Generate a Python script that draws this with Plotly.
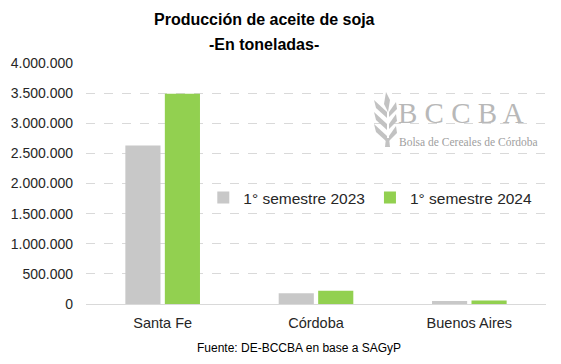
import plotly.graph_objects as go

categories = ["Santa Fe", "Córdoba", "Buenos Aires"]
series_names = ["1° semestre 2023", "1° semestre 2024"]
values_2023 = [2630000, 178000, 48000]
values_2024 = [3490000, 221000, 60000]
colors = ["#c8c8c8", "#92d050"]
y_ticks = [0, 500000, 1000000, 1500000, 2000000, 2500000, 3000000, 3500000, 4000000]

L, R, T, B = 86, 15, 63, 60
W, H = 561, 364
PW, PH = W - L - R, H - T - B


def px(x):
    return (x - L) / PW


def py(y):
    return (H - B - y) / PH


fig = go.Figure()
for name, vals, col in zip(series_names, [values_2023, values_2024], colors):
    fig.add_trace(go.Bar(x=categories, y=vals, name=name, marker_color=col,
                         marker_line_width=0))

fig.update_layout(
    width=W, height=H,
    margin=dict(l=L, r=R, t=T, b=B),
    paper_bgcolor="white", plot_bgcolor="white",
    separators=",.",
    barmode="group", bargap=0.485, bargroupgap=0.11,
    font=dict(family="Liberation Sans, Arial, sans-serif", color="#262626"),
    legend=dict(orientation="h", x=0.255, y=0.44, xanchor="left", yanchor="middle",
                bgcolor="rgba(0,0,0,0)", font=dict(size=15.5, color="#262626"),
                itemwidth=30, traceorder="normal"),
    showlegend=True,
)
fig.update_yaxes(range=[0, 4000000], tickvals=y_ticks, tickformat=",d",
                 showgrid=True, gridcolor="#d9d9d9", griddash="dash", gridwidth=1,
                 zeroline=False, showline=False, ticks="", ticklen=0,
                 ticklabelstandoff=12,
                 tickfont=dict(size=14, color="#262626"))
fig.update_xaxes(showline=True, linecolor="#d9d9d9", linewidth=1, ticks="",
                 ticklabelstandoff=6,
                 tickfont=dict(size=14.5, color="#262626"), showgrid=False)

# title
fig.add_annotation(text="<b>Producción de aceite de soja</b>", xref="paper", yref="paper",
                   x=px(264), y=py(20), xanchor="center", yanchor="middle", showarrow=False,
                   font=dict(size=16, color="#000000"))
fig.add_annotation(text="<b>-En toneladas-</b>", xref="paper", yref="paper",
                   x=px(264), y=py(44), xanchor="center", yanchor="middle", showarrow=False,
                   font=dict(size=16, color="#000000"))

# watermark logo
fig.add_annotation(text="B C C B A", xref="paper", yref="paper", x=px(396), y=py(113),
                   xanchor="left", yanchor="middle", showarrow=False,
                   font=dict(family="Liberation Serif, serif", size=29, color="#b8b8b8"))
fig.add_annotation(text="Bolsa de Cereales de Córdoba", xref="paper", yref="paper",
                   x=px(397), y=py(142), xanchor="left", yanchor="middle", showarrow=False,
                   font=dict(family="Liberation Serif, serif", size=11.5, color="#a0a0a0"))


def leaf(points):
    d = "M " + " L ".join(f"{px(a)},{py(b)}" for a, b in points) + " Z"
    fig.add_shape(type="path", xref="paper", yref="paper", path=d,
                  fillcolor="#c2c2c2", line_width=0, layer="above")


# stylized wheat sprig
leaf([(386, 92), (390, 100), (388, 112), (384, 104)])
for yy in [108, 120, 132]:
    leaf([(374, yy - 8), (387, yy + 4), (387, yy + 10), (376, yy)])
    leaf([(396, yy - 6), (389, yy + 4), (389, yy + 9), (397, yy + 1)])
leaf([(386, 138), (389, 138), (390, 147), (385, 147)])

fig.add_annotation(text="Fuente: DE-BCCBA en base a SAGyP", xref="paper", yref="paper",
                   x=px(299), y=py(348), xanchor="center", yanchor="middle", showarrow=False,
                   font=dict(size=12, color="#000000"))

fig.write_html("out.html")
